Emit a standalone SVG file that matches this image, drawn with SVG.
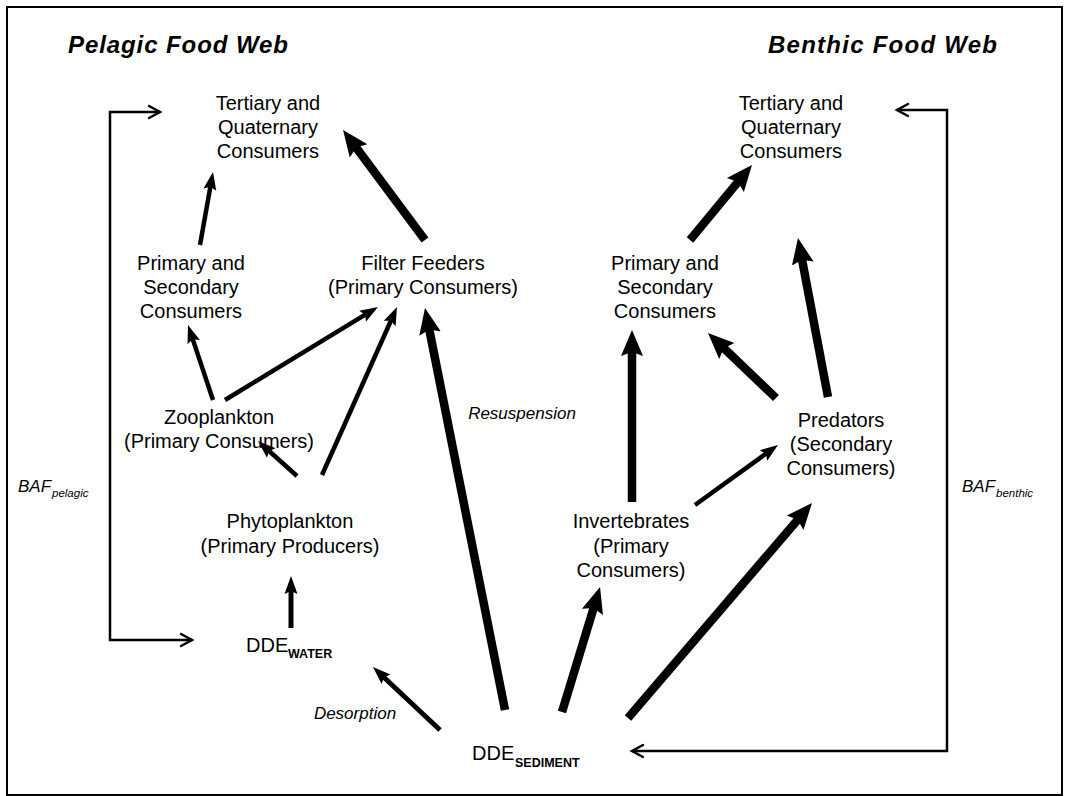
<svg xmlns="http://www.w3.org/2000/svg" width="1067" height="796" viewBox="0 0 1067 796">
  <style>
    text { font-family: "Liberation Sans", Arial, sans-serif; fill: #000; }
    .node { font-size: 20px; text-anchor: middle; }
    .title { font-size: 24px; font-weight: bold; font-style: italic; }
    .proc { font-size: 17px; font-style: italic; }
    .dde { font-size: 20px; }
    .sub { font-size: 12.5px; font-weight: bold; }
    .isub { font-size: 11.5px; font-style: italic; }
    .thin { stroke: #000; stroke-width: 4.5; fill: none; marker-end: url(#headThin); }
    .mid { stroke: #000; stroke-width: 5; fill: none; marker-end: url(#headThin); }
    .thick { stroke: #000; stroke-width: 8.5; fill: none; marker-end: url(#headThick); }
    .bracket { stroke: #000; stroke-width: 2.5; fill: none; }
    .chev { stroke: #000; stroke-width: 2.5; fill: none; stroke-linecap: round; stroke-linejoin: miter; }
  </style>
  <defs>
    <marker id="headThin" markerUnits="userSpaceOnUse" markerWidth="20" markerHeight="16" viewBox="0 -8 20 16" refX="6" refY="0" orient="auto">
      <path d="M0,-6.5 L18,0 L0,6.5 L3,0 Z" fill="#000"/>
    </marker>
    <marker id="headThick" markerUnits="userSpaceOnUse" markerWidth="28" markerHeight="24" viewBox="0 -12 28 24" refX="8" refY="0" orient="auto">
      <path d="M0,-11 L26,0 L0,11 L4,0 Z" fill="#000"/>
    </marker>
  </defs>

  <rect x="7" y="7" width="1055" height="788" fill="#fff" stroke="#000" stroke-width="2"/>

  <text class="title" x="68" y="53" textLength="220" lengthAdjust="spacing">Pelagic Food Web</text>
  <text class="title" x="768" y="53" textLength="229" lengthAdjust="spacing">Benthic Food Web</text>

  <!-- pelagic nodes -->
  <g id="pel-tertiary"><text class="node" x="268" y="110">Tertiary and</text><text class="node" x="268" y="134">Quaternary</text><text class="node" x="268" y="158">Consumers</text></g>
  <g id="pel-secondary"><text class="node" x="191" y="270">Primary and</text><text class="node" x="191" y="294">Secondary</text><text class="node" x="191" y="318">Consumers</text></g>
  <g id="filter-feeders"><text class="node" x="423" y="270">Filter Feeders</text><text class="node" x="423" y="294">(Primary Consumers)</text></g>
  <g id="zooplankton"><text class="node" x="219" y="424">Zooplankton</text><text class="node" x="219" y="448">(Primary Consumers)</text></g>
  <g id="phytoplankton"><text class="node" x="290" y="528">Phytoplankton</text><text class="node" x="290" y="553">(Primary Producers)</text></g>
  <g id="dde-water"><text class="dde" x="246" y="652">DDE</text><text class="sub" x="288" y="658">WATER</text></g>

  <!-- benthic nodes -->
  <g id="ben-tertiary"><text class="node" x="791" y="110">Tertiary and</text><text class="node" x="791" y="134">Quaternary</text><text class="node" x="791" y="158">Consumers</text></g>
  <g id="ben-secondary"><text class="node" x="665" y="270">Primary and</text><text class="node" x="665" y="294">Secondary</text><text class="node" x="665" y="318">Consumers</text></g>
  <g id="predators"><text class="node" x="841" y="427">Predators</text><text class="node" x="841" y="451">(Secondary</text><text class="node" x="841" y="475">Consumers)</text></g>
  <g id="invertebrates"><text class="node" x="631" y="528">Invertebrates</text><text class="node" x="631" y="553">(Primary</text><text class="node" x="631" y="577">Consumers)</text></g>
  <g id="dde-sediment"><text class="dde" x="472" y="760">DDE</text><text class="sub" x="515" y="767">SEDIMENT</text></g>

  <!-- process and factor labels -->
  <text class="proc" x="522" y="419" text-anchor="middle">Resuspension</text>
  <text class="proc" x="355" y="719" text-anchor="middle">Desorption</text>
  <g id="baf-pelagic"><text class="proc" x="18" y="492">BAF</text><text class="isub" x="52" y="497">pelagic</text></g>
  <g id="baf-benthic"><text class="proc" x="962" y="492">BAF</text><text class="isub" x="996" y="497">benthic</text></g>

  <g id="connectors">
    <!-- pelagic web -->
    <line class="thin" x1="200" y1="245" x2="210.9" y2="183.8"/>
    <line class="thick" x1="425" y1="240" x2="353.8" y2="144.4"/>
    <line class="thin" x1="213" y1="400" x2="191.8" y2="336.4"/>
    <line class="thin" x1="225" y1="400" x2="367.7" y2="313.2"/>
    <line class="thin" x1="322" y1="475" x2="392.1" y2="318"/>
    <line class="thick" x1="505" y1="710" x2="428.5" y2="325.7"/>
    <line class="thin" x1="297" y1="476" x2="266.9" y2="449"/>
    <line class="mid" x1="291" y1="628" x2="291" y2="588"/>
    <line class="mid" x1="440" y1="730" x2="381.7" y2="675.2"/>
    <!-- benthic web -->
    <line class="thick" x1="690" y1="240" x2="740.5" y2="178.9"/>
    <line class="thick" x1="828" y1="397" x2="801.3" y2="255.7"/>
    <line class="thick" x1="632" y1="502" x2="632" y2="348"/>
    <line class="thick" x1="776" y1="398" x2="721" y2="345.4"/>
    <line class="thin" x1="695" y1="505" x2="768.3" y2="452"/>
    <line class="thick" x1="562" y1="712" x2="594.8" y2="604.2"/>
    <line class="thick" x1="628" y1="718" x2="800.3" y2="516.7"/>
    <!-- bioaccumulation brackets -->
    <path class="bracket" d="M160,112 H110 V640 H192"/>
    <path class="chev" d="M149,106 L160,112 L149,118"/>
    <path class="chev" d="M181,634 L192,640 L181,646"/>
    <path class="bracket" d="M897,110 H947 V751 H632"/>
    <path class="chev" d="M908,104 L897,110 L908,116"/>
    <path class="chev" d="M643,745 L632,751 L643,757"/>
  </g>
</svg>
